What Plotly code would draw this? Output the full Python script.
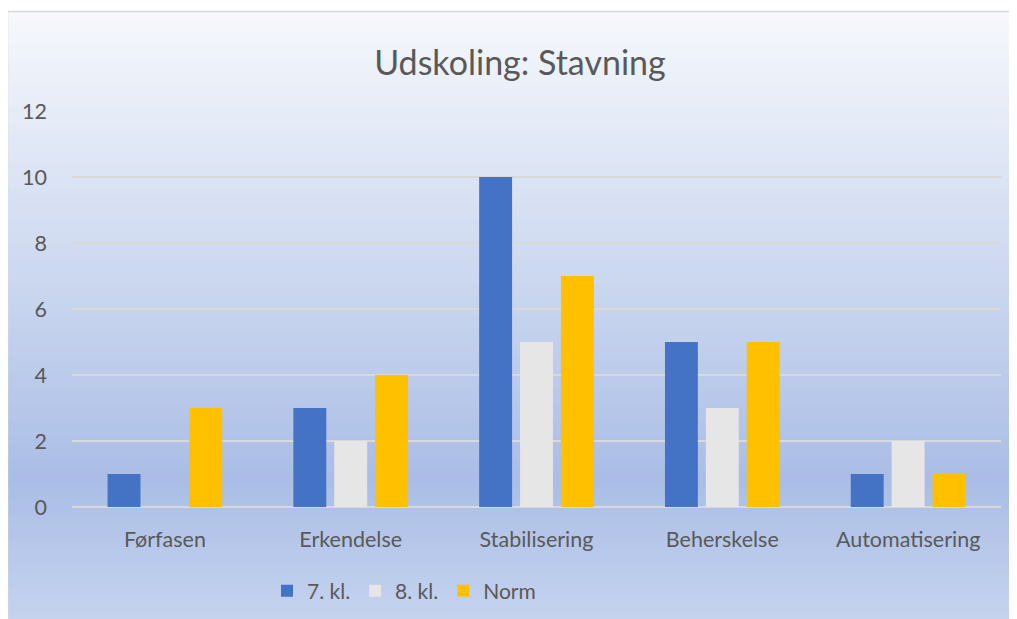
import plotly.graph_objects as go

categories = ["Førfasen", "Erkendelse", "Stabilisering", "Beherskelse", "Automatisering"]
kl7 = [1, 3, 10, 5, 1]
kl8 = [0, 2, 5, 3, 2]
norm = [3, 4, 7, 5, 1]
series_names = ["7. kl.", "8. kl.", "Norm"]
series_colors = ["#4472C4", "#E7E6E6", "#FFC000"]

# page has an 8px body margin, so the figure is sized / positioned to compensate
OFF = 8
W, H = 1017 - OFF, 619 - OFF
L, R, T, B = 64, 16, 103, 112
pw, ph = W - L - R, H - T - B

def px_x(px):  # px in figure coordinates
    return (px - L) / pw

def px_y(py):
    return (H - B - py) / ph

FONT = "Lato"
TXT = "#595959"

fig = go.Figure()
for name, vals, col in zip(series_names, [kl7, kl8, norm], series_colors):
    fig.add_trace(go.Bar(x=categories, y=vals, name=name, marker=dict(color=col, line=dict(width=0))))

# background gradient (chart area) built from horizontal strips (figure coords)
stops = [(3, (246, 248, 252)), (292, (200, 213, 238)), (472, (170, 189, 230)), (611, (197, 211, 238))]
def col_at(y):
    for (y0, c0), (y1, c1) in zip(stops[:-1], stops[1:]):
        if y0 <= y <= y1:
            t = (y - y0) / (y1 - y0)
            return tuple(round(a + (b - a) * t) for a, b in zip(c0, c1))
    return stops[-1][1]

shapes = []
top, bot = 3, 614
n = 120
step = (bot - top) / n
for i in range(n):
    y0 = top + i * step
    y1 = y0 + step + 0.8
    c = col_at(y0 + step / 2)
    shapes.append(dict(type="rect", xref="paper", yref="paper", layer="below",
                       x0=px_x(-1), x1=px_x(W + 5), y0=px_y(y0), y1=px_y(min(y1, bot)),
                       fillcolor="rgb(%d,%d,%d)" % c, line=dict(width=0)))
shapes.append(dict(type="rect", xref="paper", yref="paper", layer="below",
                   x0=px_x(-0.5), x1=px_x(W + 20), y0=px_y(3.5), y1=px_y(H + 20),
                   fillcolor="rgba(0,0,0,0)", line=dict(color="#d9d9d9", width=1.5)))

fig.update_layout(
    width=W, height=H,
    margin=dict(l=L, r=R, t=T, b=B, autoexpand=False),
    paper_bgcolor="white",
    plot_bgcolor="rgba(0,0,0,0)",
    shapes=shapes,
    barmode="group",
    bargap=0.34,
    bargroupgap=0.195,
    title=dict(text="Udskoling: Stavning", x=512 / W, xanchor="center", y=1 - 55 / H, yanchor="middle",
               font=dict(family=FONT, size=34, color=TXT)),
    font=dict(family=FONT, size=21, color=TXT),
    showlegend=True,
    legend=dict(orientation="h", x=px_x(396), xanchor="center", y=px_y(583), yanchor="middle",
                bgcolor="rgba(0,0,0,0)", font=dict(family=FONT, size=21, color=TXT),
                itemwidth=30, traceorder="normal"),
    xaxis=dict(showgrid=False, showline=False, zeroline=False, ticks="",
               tickfont=dict(family=FONT, size=21.5, color=TXT), ticklabelstandoff=17),
    yaxis=dict(range=[0, 12], dtick=2, showgrid=True, gridcolor="#d9d9d9", gridwidth=1.5,
               zeroline=True, zerolinecolor="#d9d9d9", zerolinewidth=1.5, showline=False, ticks="",
               tickfont=dict(family=FONT, size=21.5, color=TXT), ticklabelstandoff=24),
)

fig.write_html("out.html")
